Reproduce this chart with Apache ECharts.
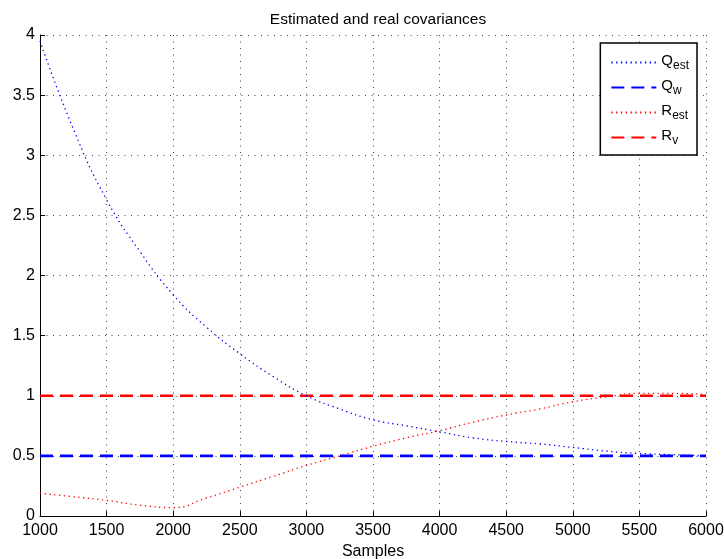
<!DOCTYPE html>
<html>
<head>
<meta charset="utf-8">
<script src="https://cdn.jsdelivr.net/npm/echarts@6/dist/echarts.min.js"></script>
<style>
  html, body { margin: 0; padding: 0; background: #fff; }
  #chart { width: 724px; height: 559px; }
</style>
</head>
<body>
<div id="chart"></div>
<script>
// samples
const samples = [1000, 1250, 1500, 1750, 2000, 2250, 2500, 2750, 3000, 3250, 3500,
                 3750, 4000, 4250, 4500, 4750, 5000, 5250, 5500, 5750, 6000];
const qEst = [3.95, 3.22, 2.63, 2.2, 1.84, 1.57, 1.35, 1.16, 1.0, 0.89, 0.8,
              0.75, 0.7, 0.65, 0.62, 0.6, 0.57, 0.54, 0.52, 0.51, 0.5];
const rEst = [0.19, 0.16, 0.13, 0.09, 0.07, 0.15, 0.24, 0.33, 0.42, 0.5, 0.58,
              0.65, 0.71, 0.78, 0.84, 0.89, 0.95, 0.99, 1.02, 1.02, 1.01];
const qW = 0.5;
const rV = 1.0;
const xTicks = [1000, 1500, 2000, 2500, 3000, 3500, 4000, 4500, 5000, 5500, 6000];
const yTicks = [0, 0.5, 1, 1.5, 2, 2.5, 3, 3.5, 4];

const font = 'Liberation Sans';
const pairs = ys => samples.map((x, i) => [x, ys[i]]);
const flat = v => [[samples[0], v], [samples[samples.length - 1], v]];

const chart = echarts.init(document.getElementById('chart'));

const gridLine = { show: true, lineStyle: { color: '#444', width: 1, type: [1, 5.5] } };

chart.setOption({
  animation: false,
  textStyle: { fontFamily: font },
  title: {
    text: 'Estimated and real covariances',
    left: 373, top: 7, textAlign: 'center',
    textStyle: { fontFamily: font, fontSize: 15.5, fontWeight: 'normal', color: '#000' }
  },
  grid: { left: 40, right: 18, top: 35, bottom: 43, outerBoundsMode: 'none', containLabel: false },
  legend: {
    orient: 'vertical',
    right: 27, top: 43,
    backgroundColor: '#fff',
    borderColor: '#000', borderWidth: 1.5, borderRadius: 0,
    padding: [8, 8, 8, 10],
    itemWidth: 45, itemHeight: 14, itemGap: 4,
    itemStyle: { opacity: 0 },
    data: ['Qest', 'Qw', 'Rest', 'Rv'],
    formatter: name => '{a|' + name[0] + '}{s|' + name.slice(1) + '}',
    textStyle: {
      fontFamily: font,
      rich: {
        a: { fontSize: 15, color: '#000', fontFamily: font, verticalAlign: 'top', lineHeight: 19 },
        s: { fontSize: 12, color: '#000', fontFamily: font, verticalAlign: 'bottom', lineHeight: 19, padding: [9, 0, 0, 0] }
      }
    }
  },
  xAxis: {
    type: 'value', min: 1000, max: 6000, interval: 500,
    name: 'Samples', nameLocation: 'middle', nameGap: 26,
    nameTextStyle: { fontFamily: font, fontSize: 16, color: '#000' },
    axisLine: { show: true, onZero: false, lineStyle: { color: '#000', width: 1 } },
    axisTick: { show: true, inside: true, length: 5, lineStyle: { color: '#000' } },
    axisLabel: { fontFamily: font, fontSize: 16, color: '#000', margin: 7,
                 formatter: v => xTicks.includes(v) ? String(v) : '' },
    splitLine: gridLine
  },
  yAxis: {
    type: 'value', min: 0, max: 4, interval: 0.5,
    axisLine: { show: true, onZero: false, lineStyle: { color: '#000', width: 1 } },
    axisTick: { show: true, inside: true, length: 5, lineStyle: { color: '#000' } },
    axisLabel: { fontFamily: font, fontSize: 16, color: '#000', margin: 5,
                 formatter: v => yTicks.includes(v) ? String(v) : '' },
    splitLine: gridLine
  },
  series: [
    { name: 'Qest', type: 'line', smooth: true, symbol: 'none', data: pairs(qEst), color: '#0000ff',
      lineStyle: { color: '#0000ff', width: 1.3, type: [1.3, 3.5] }, z: 3 },
    { name: 'Qw', type: 'line', symbol: 'none', data: flat(qW), color: '#0000ff',
      lineStyle: { color: '#0000ff', width: 2.6, type: [13, 7] }, z: 2 },
    { name: 'Rest', type: 'line', smooth: true, symbol: 'none', data: pairs(rEst), color: '#ff0000',
      lineStyle: { color: '#ff0000', width: 1.3, type: [1.3, 3.5] }, z: 3 },
    { name: 'Rv', type: 'line', symbol: 'none', data: flat(rV), color: '#ff0000',
      lineStyle: { color: '#ff0000', width: 2.6, type: [13, 7] }, z: 2 }
  ]
});
</script>
</body>
</html>
